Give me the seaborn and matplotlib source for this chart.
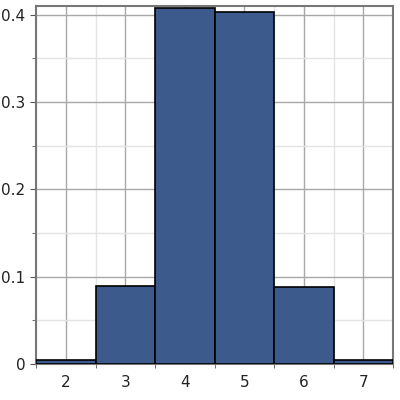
import matplotlib
matplotlib.use("Agg")
import matplotlib.pyplot as plt
import seaborn as sns
import numpy as np
from matplotlib.ticker import MultipleLocator

# bar values
values = [2, 3, 4, 5, 6, 7]
probs = [0.005, 0.089, 0.408, 0.403, 0.088, 0.005]

sns.set_style("white")
plt.rcParams['font.family'] = ['DejaVu Sans']

fig = plt.figure(figsize=(4, 4), dpi=100)
ax = fig.add_axes([0.09, 0.09, 0.893, 0.895])

sns.histplot(x=values, weights=probs, discrete=True, ax=ax,
             color="#3d5a8c", alpha=1, edgecolor="black", linewidth=1.2, zorder=3)

ax.set_xlim(1.5, 7.5)
ax.set_ylim(0, 0.41)
ax.xaxis.set_major_locator(MultipleLocator(1))
ax.xaxis.set_minor_locator(MultipleLocator(0.5))
ax.yaxis.set_major_locator(MultipleLocator(0.1))
ax.yaxis.set_minor_locator(MultipleLocator(0.05))
ax.set_yticks([0, 0.1, 0.2, 0.3, 0.4])
ax.set_yticklabels(["0", "0.1", "0.2", "0.3", "0.4"])

ax.grid(which="major", color="#a8a8a8", linewidth=1, zorder=0)
ax.grid(which="minor", color="#e4e4e4", linewidth=1, zorder=0)
ax.set_axisbelow(True)

for s in ax.spines.values():
    s.set_color("#777777")
    s.set_linewidth(1.5)

ax.tick_params(which="both", direction="out", color="#555555", labelsize=11,
               labelcolor="#222222", bottom=True, left=True)
ax.tick_params(which="major", length=4)
ax.tick_params(which="minor", length=3)
ax.tick_params(axis="x", which="major", length=0, pad=8)
ax.set_xlabel("")
ax.set_ylabel("")

plt.savefig("out.png", dpi=100)
